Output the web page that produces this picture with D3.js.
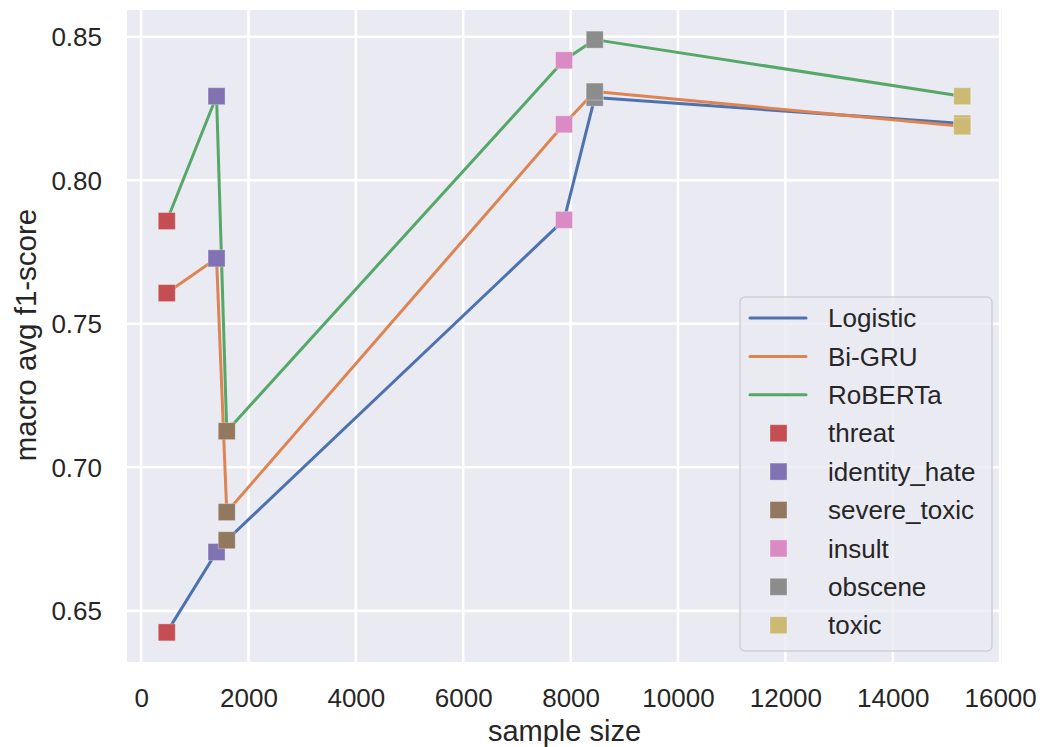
<!DOCTYPE html>
<html>
<head>
<meta charset="utf-8">
<script src="https://cdn.jsdelivr.net/npm/d3@7"></script>
<style>
    html, body { margin: 0; padding: 0; background: #fff; }
    svg { display: block; font-family: Arial, "Liberation Sans", sans-serif; }
</style>
</head>
<body>
<div id="chart"></div>
<script>
// toxic comment categories, ordered by number of samples
var categories = ['threat', 'identity_hate', 'severe_toxic', 'insult', 'obscene', 'toxic'];
var sampleSizes = [478, 1405, 1595, 7877, 8449, 15294];
var categoryColors = ['#C44E52', '#8172B3', '#937860', '#DA8BC3', '#8C8C8C', '#CCB974'];

var models = ['Logistic', 'Bi-GRU', 'RoBERTa'];
var modelColors = ['#4C72B0', '#DD8452', '#55A868'];
var logisticScores = [0.6425, 0.6705, 0.6746, 0.7862, 0.8288, 0.8198];
var biGruScores = [0.7607, 0.7728, 0.6844, 0.8195, 0.8309, 0.8188];
var robertaScores = [0.7858, 0.8293, 0.7126, 0.8418, 0.8490, 0.8293];

var xTicks = [0, 2000, 4000, 6000, 8000, 10000, 12000, 14000, 16000];
var yTicks = [0.65, 0.70, 0.75, 0.80, 0.85];

(function (d3) {
    'use strict';

    var width = 1043,
        height = 747,
        box = { left: 127, right: 1002, top: 10, bottom: 662 },
        scores = [logisticScores, biGruScores, robertaScores];

    // matplotlib style auto margins, 5% on each side
    function padded(values) {
        var ext = d3.extent(values),
            pad = (ext[1] - ext[0]) * 0.05;
        return [ext[0] - pad, ext[1] + pad];
    }

    var x = d3.scaleLinear()
        .domain(padded(sampleSizes))
        .range([box.left, box.right]);

    var y = d3.scaleLinear()
        .domain(padded(d3.merge(scores)))
        .range([box.bottom, box.top]);

    var svg = d3.select('#chart')
        .append('svg')
        .attr('width', width)
        .attr('height', height);

    svg.append('rect')
        .attr('x', box.left)
        .attr('y', box.top)
        .attr('width', box.right - box.left)
        .attr('height', box.bottom - box.top)
        .attr('fill', '#EAEAF2');

    // grid
    var grid = svg.append('g').attr('stroke', '#fff').attr('stroke-width', 2.6);
    grid.selectAll('line.gx')
        .data(xTicks)
        .enter()
        .append('line')
        .attr('x1', function (d) { return x(d); })
        .attr('x2', function (d) { return x(d); })
        .attr('y1', box.top)
        .attr('y2', box.bottom);
    grid.selectAll('line.gy')
        .data(yTicks)
        .enter()
        .append('line')
        .attr('y1', function (d) { return y(d); })
        .attr('y2', function (d) { return y(d); })
        .attr('x1', box.left)
        .attr('x2', box.right);

    // axes, no tick marks or domain line
    var xAxis = svg.append('g')
        .attr('transform', 'translate(0,' + box.bottom + ')')
        .call(d3.axisBottom(x).tickValues(xTicks).tickSize(0).tickPadding(26.5).tickFormat(d3.format('d')));
    var yAxis = svg.append('g')
        .attr('transform', 'translate(' + box.left + ',0)')
        .call(d3.axisLeft(y).tickValues(yTicks).tickSize(0).tickPadding(25).tickFormat(d3.format('.2f')));

    [xAxis, yAxis].forEach(function (a) {
        a.select('.domain').remove();
        a.selectAll('text')
            .attr('fill', '#262626')
            .style('font-size', '26px')
            .style('font-family', 'Arial, "Liberation Sans", sans-serif');
    });
    yAxis.selectAll('text').attr('dy', '0.35em');

    svg.append('text')
        .attr('x', (box.left + box.right) / 2)
        .attr('y', 741)
        .attr('text-anchor', 'middle')
        .attr('fill', '#262626')
        .style('font-size', '29px')
        .text('sample size');

    svg.append('text')
        .attr('transform', 'translate(36,335) rotate(-90)')
        .attr('text-anchor', 'middle')
        .attr('fill', '#262626')
        .style('font-size', '29.5px')
        .text('macro avg f1-score');

    // lines per model
    var line = d3.line()
        .x(function (d, i) { return x(sampleSizes[i]); })
        .y(function (d) { return y(d); });

    svg.append('g')
        .selectAll('path')
        .data(scores)
        .enter()
        .append('path')
        .attr('d', line)
        .attr('fill', 'none')
        .attr('stroke', function (d, i) { return modelColors[i]; })
        .attr('stroke-width', 3)
        .attr('stroke-linejoin', 'round')
        .attr('stroke-linecap', 'round');

    // square markers coloured by category
    var ms = 17;
    scores.forEach(function (s) {
        svg.append('g')
            .selectAll('rect')
            .data(s)
            .enter()
            .append('rect')
            .attr('x', function (d, i) { return x(sampleSizes[i]) - ms / 2; })
            .attr('y', function (d) { return y(d) - ms / 2; })
            .attr('width', ms)
            .attr('height', ms)
            .attr('fill', function (d, i) { return categoryColors[i]; })
            .attr('stroke', '#fff')
            .attr('stroke-opacity', 0.3)
            .attr('stroke-width', 1);
    });

    // legend
    var lg = svg.append('g').attr('transform', 'translate(740,297)'),
        rowH = 38.4,
        items = models.map(function (m, i) {
            return { name: m, color: modelColors[i], kind: 'line' };
        }).concat(categories.map(function (c, i) {
            return { name: c, color: categoryColors[i], kind: 'marker' };
        }));

    lg.append('rect')
        .attr('width', 252)
        .attr('height', 354)
        .attr('rx', 5)
        .attr('fill', '#EAEAF2')
        .attr('fill-opacity', 0.8)
        .attr('stroke', '#cfcfd4')
        .attr('stroke-width', 1.5);

    var row = lg.selectAll('g.item')
        .data(items)
        .enter()
        .append('g')
        .attr('transform', function (d, i) { return 'translate(0,' + (21 + i * rowH) + ')'; });

    row.filter(function (d) { return d.kind === 'line'; })
        .append('line')
        .attr('x1', 10)
        .attr('x2', 66)
        .attr('stroke', function (d) { return d.color; })
        .attr('stroke-width', 3)
        .attr('stroke-linecap', 'round');

    row.filter(function (d) { return d.kind === 'marker'; })
        .append('rect')
        .attr('x', 38.5 - ms / 2)
        .attr('y', -ms / 2)
        .attr('width', ms)
        .attr('height', ms)
        .attr('fill', function (d) { return d.color; })
        .attr('stroke', '#fff')
        .attr('stroke-opacity', 0.3)
        .attr('stroke-width', 1);

    row.append('text')
        .attr('x', 88)
        .attr('dy', '0.35em')
        .attr('fill', '#262626')
        .style('font-size', '26px')
        .text(function (d) { return d.name; });

})(d3);
</script>
</body>
</html>
